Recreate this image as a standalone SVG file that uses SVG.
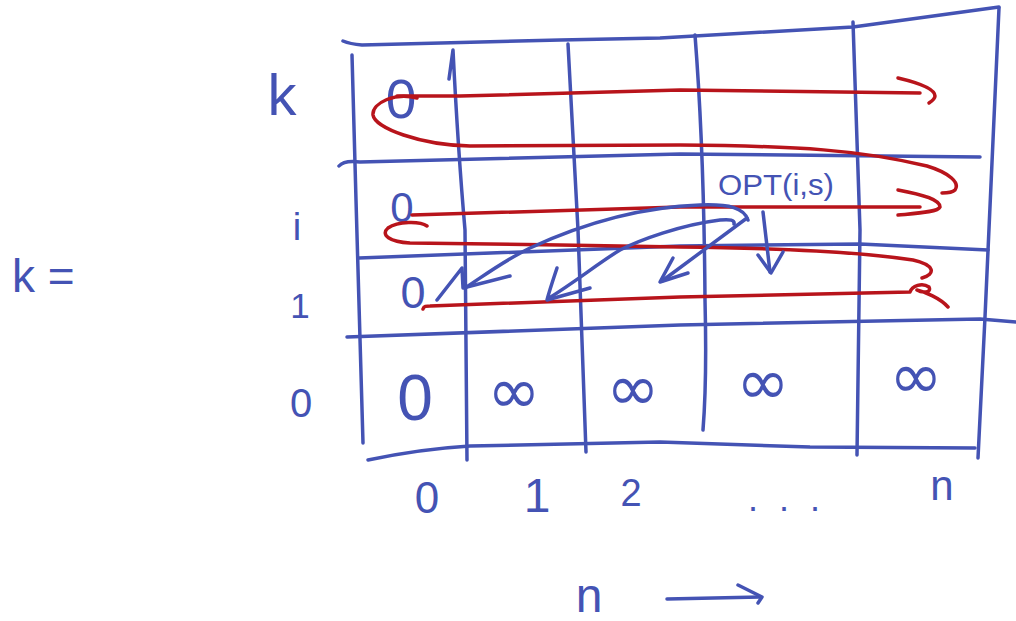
<svg xmlns="http://www.w3.org/2000/svg" width="1016" height="621" viewBox="0 0 1016 621">
<style>
.b{fill:none;stroke:#4453b4;stroke-width:3.5;stroke-linecap:round;stroke-linejoin:round}
.r{fill:none;stroke:#b8141b;stroke-width:3.5;stroke-linecap:round;stroke-linejoin:round}
text{font-family:"Liberation Sans","DejaVu Sans",sans-serif;fill:#4453b4;text-anchor:middle}
.inf{font-family:"DejaVu Sans","Liberation Sans",sans-serif}
</style>
<rect width="1016" height="621" fill="#ffffff"/>
<g id="grid">
<path class="b" d="M343,41 Q350,44 362,45 L560,40 L660,38 L853,27 L999,7"/>
<path class="b" d="M999,8 L985,317 L978,458"/>
<path class="b" d="M352,55 L356,200 L363,443"/>
<path class="b" d="M368,460 Q420,449 470,446 L660,442 L810,447 L975,448"/>
<path class="b" d="M449,79 L453,50 Q458,150 465,230 L467,460"/>
<path class="b" d="M568,44 L578,230 L586,452"/>
<path class="b" d="M695,35 Q704,150 705,300 Q707,380 703,430"/>
<path class="b" d="M853,22 L860,230 L857,455"/>
<path class="b" d="M339,166 Q344,160 360,162 L680,154 L980,157"/>
<path class="b" d="M359,258 L680,246 L860,244 L988,250"/>
<path class="b" d="M347,337 L680,325 L980,319 L1016,322"/>
</g>
<g id="row-labels">
<text x="282" y="115" font-size="58">k</text>
<text x="297" y="240" font-size="38">i</text>
<text x="300" y="318" font-size="35">1</text>
<text x="301" y="417" font-size="40">0</text>
<text x="12" y="292" font-size="46" style="text-anchor:start">k =</text>
</g>
<g id="col-labels">
<text x="427" y="513" font-size="44">0</text>
<text x="537" y="512" font-size="48">1</text>
<text x="631" y="506" font-size="38">2</text>
<text x="784" y="511" font-size="36" textLength="72" lengthAdjust="spacing">...</text>
<text x="942" y="500" font-size="42">n</text>
<text x="589" y="612" font-size="48">n</text>
</g>
<g id="cells">
<text x="401" y="118" font-size="55">0</text>
<text x="402" y="222" font-size="42">0</text>
<text x="413" y="308" font-size="45">0</text>
<text x="415" y="420" font-size="64">0</text>
<text class="inf" x="514" y="413" font-size="64">∞</text>
<text class="inf" x="633" y="410" font-size="64">∞</text>
<text class="inf" x="763" y="404" font-size="64">∞</text>
<text class="inf" x="916" y="398" font-size="64">∞</text>
<text x="776" y="195" font-size="30" textLength="116" lengthAdjust="spacingAndGlyphs">OPT(i,s)</text>
</g>
<g id="connectors">
<path class="r" d="M397,96 L460,96 L680,90 L920,93"/>
<path class="r" d="M898,78 C915,82 935,88 935,96 C935,99 932,101 929,103"/>
<path class="r" d="M417,98 C395,92 372,103 373,115 C375,128 420,145 470,146 L680,145 C800,146 860,150 927,166 C950,173 960,183 955,190 C952,193 946,193 942,193"/>
<path class="r" d="M412,215 L680,207 L920,207"/>
<path class="r" d="M898,190 C925,195 940,200 940,207 C938,212 920,213 898,215"/>
<path class="r" d="M427,226 C420,221 398,221 388,228 C380,235 390,242 410,243 L560,245 L680,247 C780,248 860,252 913,260 C935,265 936,274 922,278"/>
<path class="r" d="M423,309 C424,306 426,306 430,306 L680,297 L910,292 C912,286 922,282 929,287 C932,293 922,293 917,290 C925,292 940,298 948,307"/>
<path class="b" d="M748,220 C744,208 730,204 700,205 C640,207 580,225 530,248 C505,260 485,275 465,288"/>
<path class="b" d="M437,300 L462,268 L463,288 L510,276"/>
<path class="b" d="M734,224 C735,220 730,219 720,220 C680,225 640,240 620,250 C600,262 575,282 549,298"/>
<path class="b" d="M557,268 C553,280 549,292 547,300 L590,288"/>
<path class="b" d="M747,218 L662,281"/>
<path class="b" d="M673,258 L660,282 L688,273"/>
<path class="b" d="M763,212 L770,272"/>
<path class="b" d="M758,255 L771,273 L783,252"/>
<path class="b" d="M667,599 L760,597"/>
<path class="b" d="M738,585 L762,597 L758,603"/>
</g>
</svg>
